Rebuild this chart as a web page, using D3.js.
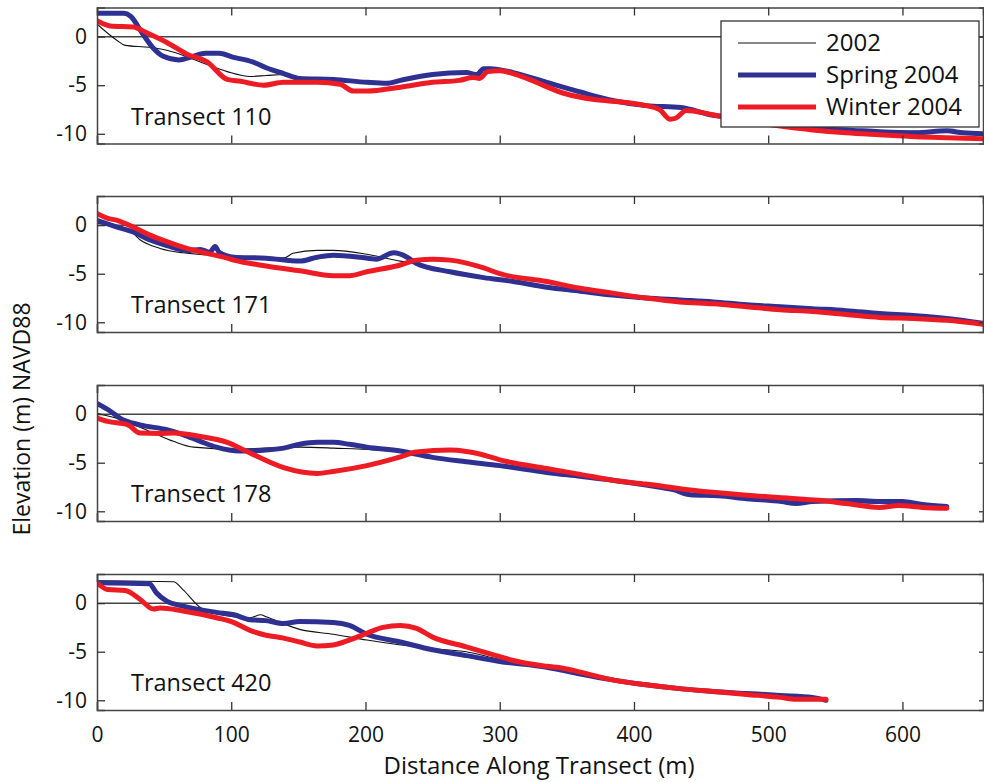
<!DOCTYPE html>
<html>
<head>
<meta charset="utf-8">
<script src="https://cdn.jsdelivr.net/npm/d3@7"></script>
<style>
  html, body { margin: 0; padding: 0; background: #fff; }
  svg { display: block; }
  text { font-family: "Open Sans", "Noto Sans", sans-serif; fill: #111; }
</style>
</head>
<body>
<svg id="chart" width="984" height="782"></svg>
<script>
// ---------------- DATA ----------------
const transects = ["Transect 110", "Transect 171", "Transect 178", "Transect 420"];
const seriesNames = ["2002", "Spring 2004", "Winter 2004"];
const xTicks = [0, 100, 200, 300, 400, 500, 600];
const yTicks = [0, -5, -10];

// [distance (m), elevation (m)]
const t110_2002 = [[0,1.3],[15,-0.4],[21,-0.9],[39,-1.1],[52,-1.4],[77,-2.6],[97,-3.6],[114,-4.1],[126,-4.0],[139,-3.9],[151,-4.2],[176,-4.4],[201,-4.6],[216,-4.7],[226,-4.5],[250,-3.9],[275,-3.7],[283,-3.8],[290,-3.3],[310,-3.7],[335,-4.7],[360,-5.7],[385,-6.6],[409,-7.1],[435,-7.3],[459,-8.0],[484,-8.4],[509,-8.9],[533,-9.4],[583,-9.7],[633,-9.8],[660,-10.1]];
const t110_spring = [[0,2.4],[20,2.4],[25,2.1],[34,0.3],[42,-1.2],[49,-2.0],[61,-2.4],[70,-2.1],[81,-1.7],[91,-1.7],[101,-2.1],[116,-2.6],[126,-3.2],[139,-3.8],[151,-4.3],[176,-4.4],[201,-4.7],[216,-4.8],[226,-4.5],[250,-3.9],[275,-3.7],[283,-3.9],[288,-3.3],[293,-3.3],[310,-3.7],[335,-4.7],[360,-5.7],[385,-6.6],[409,-7.1],[435,-7.3],[459,-8.1],[484,-8.4],[509,-8.9],[533,-9.5],[558,-9.6],[583,-9.8],[610,-9.9],[633,-9.7],[645,-9.9],[660,-10.0]];
const t110_winter = [[0,1.65],[10,1.1],[27,1.0],[37,0.4],[52,-0.6],[67,-1.8],[82,-2.6],[97,-4.4],[107,-4.6],[124,-5.0],[139,-4.7],[164,-4.7],[181,-4.9],[191,-5.6],[201,-5.6],[226,-5.2],[250,-4.7],[270,-4.5],[280,-4.2],[285,-4.3],[291,-3.6],[300,-3.5],[310,-3.8],[322,-4.4],[347,-5.8],[372,-6.5],[389,-6.7],[409,-7.1],[419,-7.5],[427,-8.5],[431,-8.4],[439,-7.6],[454,-7.9],[464,-8.2],[484,-8.7],[509,-9.2],[533,-9.6],[558,-9.9],[583,-10.1],[610,-10.3],[633,-10.4],[660,-10.5]];

const t171_2002 = [[0,0.2],[24,-0.5],[32,-1.5],[47,-2.4],[64,-2.85],[102,-3.2],[139,-3.4],[146,-2.9],[164,-2.6],[176,-2.6],[201,-3.0],[226,-3.7],[238,-4.0],[263,-4.7],[288,-5.3],[335,-6.3],[384,-7.1],[434,-7.7],[484,-8.3],[533,-8.7],[583,-9.2],[633,-9.6],[660,-10.1]];
const t171_spring = [[0,0.5],[15,-0.2],[27,-0.7],[39,-1.5],[52,-2.1],[67,-2.6],[77,-2.5],[84,-2.8],[88,-2.2],[91,-2.8],[102,-3.3],[126,-3.4],[151,-3.7],[164,-3.3],[176,-3.1],[196,-3.3],[208,-3.5],[221,-2.85],[231,-3.3],[238,-3.95],[263,-4.8],[288,-5.4],[310,-5.8],[335,-6.4],[360,-6.8],[384,-7.2],[409,-7.5],[434,-7.7],[459,-7.9],[484,-8.2],[509,-8.4],[533,-8.6],[558,-8.8],[583,-9.1],[608,-9.3],[633,-9.6],[660,-10.1]];
const t171_winter = [[0,1.2],[8,0.7],[15,0.5],[27,-0.2],[39,-1.0],[52,-1.7],[67,-2.4],[82,-2.9],[97,-3.4],[102,-3.6],[126,-4.2],[151,-4.7],[176,-5.2],[188,-5.2],[201,-4.8],[226,-4.1],[238,-3.6],[250,-3.5],[263,-3.6],[288,-4.4],[300,-5.0],[335,-5.8],[360,-6.5],[384,-7.0],[409,-7.5],[434,-7.9],[459,-8.1],[484,-8.4],[509,-8.7],[533,-8.9],[558,-9.2],[583,-9.5],[608,-9.6],[633,-9.8],[660,-10.2]];

const t178_2002 = [[0,0.1],[14,-0.4],[39,-1.75],[57,-2.8],[72,-3.4],[102,-3.6],[151,-3.4],[176,-3.5],[226,-3.9],[250,-4.4],[275,-4.8],[300,-5.2],[335,-5.9],[384,-6.8],[442,-7.9],[484,-8.5],[533,-8.9],[583,-9.2],[633,-9.5]];
const t178_spring = [[0,1.1],[10,0.3],[17,-0.4],[32,-1.1],[52,-1.6],[64,-2.1],[77,-2.8],[89,-3.4],[106,-3.8],[126,-3.7],[139,-3.5],[151,-3.1],[164,-2.9],[176,-2.9],[188,-3.1],[201,-3.4],[226,-3.8],[250,-4.45],[275,-4.9],[300,-5.3],[335,-6.0],[360,-6.4],[384,-6.8],[409,-7.3],[430,-7.8],[442,-8.3],[463,-8.4],[484,-8.7],[510,-9.0],[521,-9.2],[533,-9.0],[566,-8.9],[583,-9.0],[600,-9.0],[615,-9.3],[633,-9.5]];
const t178_winter = [[0,-0.4],[8,-0.75],[23,-1.1],[32,-1.95],[47,-2.0],[57,-1.95],[77,-2.3],[97,-2.9],[114,-4.0],[139,-5.5],[164,-6.1],[176,-5.9],[201,-5.3],[226,-4.4],[238,-3.9],[263,-3.7],[275,-3.85],[285,-4.1],[300,-4.7],[335,-5.6],[360,-6.2],[384,-6.8],[409,-7.2],[442,-7.8],[463,-8.1],[484,-8.35],[521,-8.7],[540,-8.9],[558,-9.2],[583,-9.6],[597,-9.4],[615,-9.6],[633,-9.7]];

const t420_2002 = [[0,2.3],[57,2.2],[64,1.4],[77,-0.45],[89,-1.1],[114,-1.5],[122,-1.2],[126,-1.4],[151,-2.7],[176,-3.2],[201,-3.8],[250,-4.7],[275,-5.0],[300,-5.8],[335,-6.6],[384,-7.9],[434,-8.8],[484,-9.3],[533,-9.7],[543,-9.9]];
const t420_spring = [[0,2.1],[39,2.0],[44,1.1],[52,0.2],[64,-0.3],[89,-0.95],[102,-1.2],[114,-1.7],[126,-1.8],[139,-2.1],[151,-1.9],[176,-2.0],[188,-2.3],[201,-3.2],[226,-4.0],[250,-4.8],[275,-5.4],[300,-6.0],[335,-6.6],[360,-7.3],[384,-7.9],[409,-8.4],[434,-8.8],[459,-9.1],[484,-9.3],[509,-9.5],[533,-9.7],[543,-10.0]];
const t420_winter = [[0,2.1],[8,1.4],[21,1.3],[32,0.4],[42,-0.6],[47,-0.5],[64,-0.8],[89,-1.5],[102,-2.0],[114,-2.8],[126,-3.3],[139,-3.6],[151,-4.0],[164,-4.4],[176,-4.3],[188,-3.8],[201,-3.1],[213,-2.5],[226,-2.3],[238,-2.6],[250,-3.5],[275,-4.5],[300,-5.5],[310,-5.9],[335,-6.5],[347,-6.7],[360,-7.1],[384,-7.9],[409,-8.4],[434,-8.8],[459,-9.1],[484,-9.4],[509,-9.7],[521,-9.9],[543,-9.9]];

const panelData = [
  [t110_2002, t110_spring, t110_winter],
  [t171_2002, t171_spring, t171_winter],
  [t178_2002, t178_spring, t178_winter],
  [t420_2002, t420_spring, t420_winter]
];

// ---------------- STYLE / LAYOUT ----------------
const colors = ["#111111", "#2e3192", "#ed1c24"];
const widths = [1.1, 5, 5];
const left = 97, right = 983;
const panelTops = [7.5, 196, 385, 574];
const panelH = 136;
const FONT = "'Open Sans', 'Noto Sans', sans-serif";

const svg = d3.select("#chart");
const x = d3.scaleLinear().domain([0, 660]).range([left, right]);

panelData.forEach((series, i) => {
  const top = panelTops[i];
  const y = d3.scaleLinear().domain([-11, 3]).range([top + panelH, top]);
  const g = svg.append("g");

  const clipId = "clip" + i;
  svg.append("clipPath").attr("id", clipId)
    .append("rect").attr("x", left).attr("y", top).attr("width", right - left).attr("height", panelH);

  // zero line
  g.append("line")
    .attr("x1", left).attr("x2", right)
    .attr("y1", y(0)).attr("y2", y(0))
    .attr("stroke", "#444").attr("stroke-width", 1.5);

  const line = d3.line().x(d => x(d[0])).y(d => y(d[1])).curve(d3.curveMonotoneX);
  const lg = g.append("g").attr("clip-path", `url(#${clipId})`);
  series.forEach((s, k) => {
    lg.append("path")
      .datum(s)
      .attr("fill", "none")
      .attr("stroke", colors[k])
      .attr("stroke-width", widths[k])
      .attr("stroke-linejoin", "round")
      .attr("stroke-linecap", "round")
      .attr("d", line);
  });

  // axes (ticks inward)
  const axB = d3.axisBottom(x).tickValues(xTicks).tickSize(-8).tickPadding(17)
    .tickFormat(i === panelData.length - 1 ? d3.format("d") : "");
  const axT = d3.axisTop(x).tickValues(xTicks).tickSize(-8).tickFormat("");
  const axL = d3.axisLeft(y).tickValues(yTicks).tickSize(-8).tickPadding(10).tickFormat(d => d === 0 ? "0" : "-" + Math.abs(d));
  const axR = d3.axisRight(y).tickValues(yTicks).tickSize(-4).tickFormat("");

  const styleAxis = sel => {
    sel.select(".domain").attr("stroke", "#444").attr("stroke-width", 1.5);
    sel.selectAll(".tick line").attr("stroke", "#333").attr("stroke-width", 1.3);
    sel.selectAll("text").attr("font-size", 21).attr("fill", "#111").attr("font-family", FONT);
  };
  g.append("g").attr("transform", `translate(0,${top + panelH})`).call(axB).call(styleAxis);
  g.append("g").attr("transform", `translate(0,${top})`).call(axT).call(styleAxis);
  g.append("g").attr("transform", `translate(${left},0)`).call(axL).call(styleAxis);
  g.append("g").attr("transform", `translate(${right},0)`).call(axR).call(styleAxis);

  // transect label
  g.append("text")
    .attr("x", 131).attr("y", top + 117)
    .attr("font-size", 23.5)
    .text(transects[i]);
});

// axis titles
svg.append("text")
  .attr("x", 539).attr("y", 774)
  .attr("text-anchor", "middle")
  .attr("font-size", 24)
  .text("Distance Along Transect (m)");

svg.append("text")
  .attr("transform", "translate(30,419) rotate(-90)")
  .attr("text-anchor", "middle")
  .attr("font-size", 23)
  .text("Elevation (m) NAVD88");

// legend
const legend = svg.append("g");
legend.append("rect")
  .attr("x", 721).attr("y", 21).attr("width", 258).attr("height", 106)
  .attr("fill", "#fff").attr("stroke", "#333").attr("stroke-width", 1.3);
const legY = [43, 75, 107];
seriesNames.forEach((name, k) => {
  legend.append("line")
    .attr("x1", 738).attr("x2", 816)
    .attr("y1", legY[k]).attr("y2", legY[k])
    .attr("stroke", colors[k]).attr("stroke-width", widths[k]);
  legend.append("text")
    .attr("x", 826).attr("y", legY[k])
    .attr("dy", "0.35em")
    .attr("font-size", 24)
    .text(name);
});
</script>
</body>
</html>
